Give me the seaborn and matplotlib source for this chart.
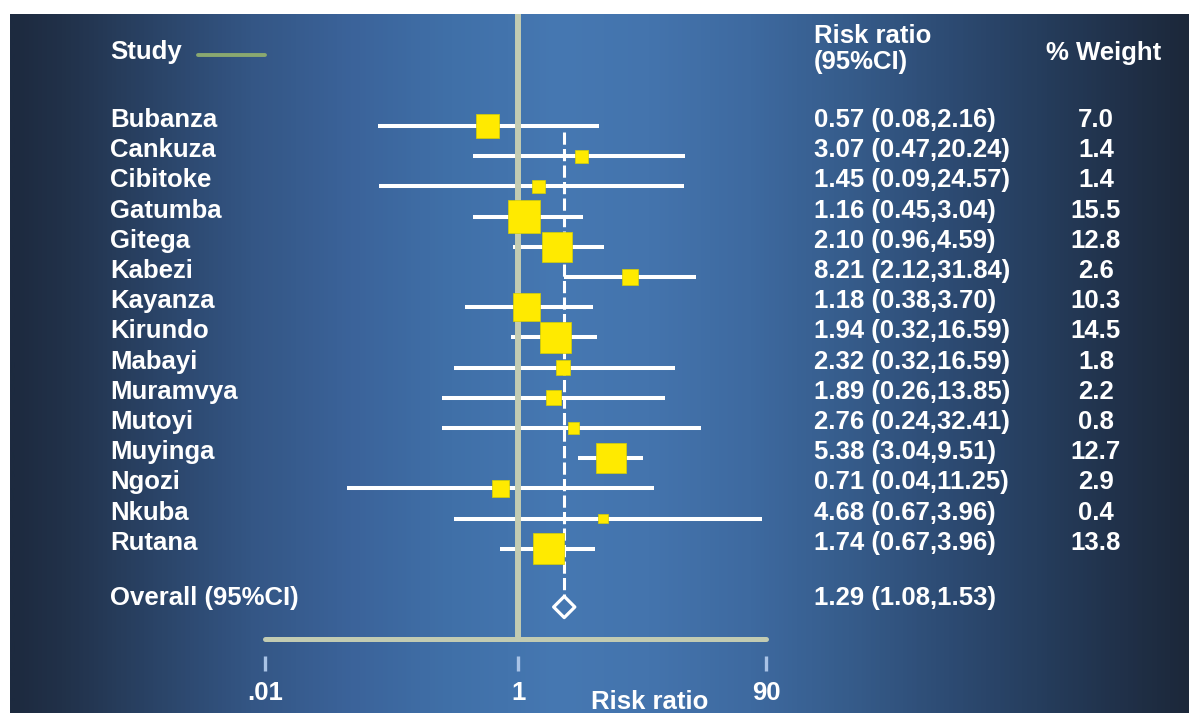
import numpy as np
import pandas as pd
import matplotlib
matplotlib.use("Agg")
import matplotlib.pyplot as plt
import matplotlib.transforms as mtransforms
from matplotlib.colors import LinearSegmentedColormap
import seaborn as sns

studies = ["Bubanza", "Cankuza", "Cibitoke", "Gatumba", "Gitega", "Kabezi", "Kayanza",
           "Kirundo", "Mabayi", "Muramvya", "Mutoyi", "Muyinga", "Ngozi", "Nkuba", "Rutana"]
ci_labels = ["0.57 (0.08,2.16)", "3.07 (0.47,20.24)", "1.45 (0.09,24.57)", "1.16 (0.45,3.04)",
             "2.10 (0.96,4.59)", "8.21 (2.12,31.84)", "1.18 (0.38,3.70)", "1.94 (0.32,16.59)",
             "2.32 (0.32,16.59)", "1.89 (0.26,13.85)", "2.76 (0.24,32.41)", "5.38 (3.04,9.51)",
             "0.71 (0.04,11.25)", "4.68 (0.67,3.96)", "1.74 (0.67,3.96)"]
weights = [7.0, 1.4, 1.4, 15.5, 12.8, 2.6, 10.3, 14.5, 1.8, 2.2, 0.8, 12.7, 2.9, 0.4, 13.8]
# positions as drawn in the picture (risk ratio scale)
rr_point = [0.57, 3.13, 1.44, 1.11, 2.03, 7.63, 1.16, 1.96, 2.26, 1.89, 2.71, 5.39, 0.72, 4.67, 1.72]
rr_low = [0.078, 0.44, 0.08, 0.44, 0.91, 2.30, 0.376, 0.88, 0.31, 0.248, 0.248, 2.97, 0.044, 0.31, 0.72]
rr_high = [4.34, 20.6, 20.3, 3.25, 4.76, 25.3, 3.9, 4.19, 17.2, 14.4, 27.6, 9.63, 11.8, 83.6, 4.04]
overall_label = "1.29 (1.08,1.53)"
overall_drawn = 2.30
tick_vals = [0.01, 1, 90]
tick_text = [".01", "1", "90"]

df = pd.DataFrame({"study": studies, "rr": rr_point, "lo": rr_low, "hi": rr_high,
                   "weight": weights, "label": ci_labels})
df["row"] = np.arange(len(df))

W, H = 1189, 713
fig = plt.figure(figsize=(W / 100, H / 100), dpi=100)
fig.patch.set_facecolor("white")

# gradient panel
bg = fig.add_axes([10 / W, 0, (W - 10) / W, 1 - 14 / H])
px_stops = [(10, "#1d2a3f"), (60, "#213149"), (150, "#2a4366"), (250, "#345685"),
            (350, "#3b639a"), (450, "#4070a8"), (560, "#4678b2"), (650, "#4474ad"),
            (750, "#3e6aa0"), (850, "#365c8b"), (950, "#2d4b73"), (1050, "#253c5b"),
            (1130, "#203048"), (1189, "#1c283a")]
stops = [((p - 10) / (W - 10), c) for p, c in px_stops]
cmap = LinearSegmentedColormap.from_list("panel", stops)
bg.imshow(np.linspace(0, 1, 800)[None, :], aspect="auto", cmap=cmap, extent=[0, 1, 0, 1])
bg.set_axis_off()

sns.set_style("white")
plt.rcParams["font.family"] = ["Liberation Sans", "DejaVu Sans"]

ax = fig.add_axes([265 / W, 1 - 639 / H, (766 - 265) / W, (639 - 14) / H])
ax.patch.set_alpha(0)
ax.set_xscale("log")
ax.set_xlim(0.01, 90)
row_px = 30.2
ax.set_ylim((639 - 126) / row_px, (14 - 126) / row_px)

line_c = "#c2cbb2"
white = "white"
yellow = "#ffea00"

ax.hlines(df["row"], df["lo"], df["hi"], color=white, lw=2.9, zorder=2)
ax.axvline(1, color=line_c, lw=4.3, zorder=3)
overall_row = (607 - 126) / row_px
ax.plot([overall_drawn, overall_drawn], [(132 - 126) / row_px, overall_row - 0.33],
        color=white, lw=2.2, dashes=(4, 1.4), zorder=4)
sizes = ((5 + 7 * np.sqrt(df["weight"])) * 0.72) ** 2
sns.scatterplot(data=df, x="rr", y="row", marker="s", s=sizes, color=yellow,
                edgecolor="#d8d000", linewidth=0.5, ax=ax, zorder=5, legend=False)
ax.scatter([overall_drawn], [overall_row], marker="D", s=(15 * 0.72) ** 2,
           facecolor="none", edgecolor=white, linewidth=2.3, zorder=6)

ax.axhline((639 - 126) / row_px, color=line_c, lw=3.6, zorder=3, clip_on=False)

for s in ["top", "left", "right"]:
    ax.spines[s].set_visible(False)
ax.spines["bottom"].set_position(("outward", 12))
ax.spines["bottom"].set_color("none")
ax.set_yticks([])
ax.set_xticks(tick_vals)
ax.set_xticklabels(tick_text)
ax.xaxis.set_minor_locator(matplotlib.ticker.NullLocator())
ax.tick_params(axis="x", bottom=True, direction="out", length=10.5, width=2.4,
               color="#a9c3e6", labelcolor=white, labelsize=18.5, pad=8)
for t in ax.get_xticklabels():
    t.set_fontweight("bold")
ax.set_xlabel("")
ax.set_ylabel("")

fs = 18.5
tr = mtransforms.blended_transform_factory(fig.transFigure, ax.transData)
off = 6 / row_px
for _, r in df.iterrows():
    ax.text(110 / W, r["row"] - off, r["study"], transform=tr, color=white,
            fontsize=fs, fontweight="bold", va="center", ha="left")
    ax.text(814 / W, r["row"] - off, r["label"], transform=tr, color=white,
            fontsize=fs, fontweight="bold", va="center", ha="left")
    ax.text(1096 / W, r["row"] - off, f"{r['weight']:.1f}", transform=tr, color=white,
            fontsize=fs, fontweight="bold", va="center", ha="center")

ov_text_row = (598 - 126) / row_px
ax.text(110 / W, ov_text_row, "Overall (95%CI)", transform=tr, color=white,
        fontsize=fs, fontweight="bold", va="center", ha="left")
ax.text(814 / W, ov_text_row, overall_label, transform=tr, color=white,
        fontsize=fs, fontweight="bold", va="center", ha="left")

fig.text(110 / W, 1 - 52 / H, "Study", color=white, fontsize=fs, fontweight="bold",
         va="center", ha="left")
fig.add_artist(plt.Line2D([198 / W, 265 / W], [1 - 55 / H, 1 - 55 / H],
                          color="#8aa870", lw=2.8))
fig.text(814 / W, 1 - 49 / H, "Risk ratio\n(95%CI)", color=white, fontsize=fs,
         fontweight="bold", va="center", ha="left", linespacing=1.15)
fig.text(1046 / W, 1 - 53 / H, "% Weight", color=white, fontsize=fs, fontweight="bold",
         va="center", ha="left")
fig.text(650 / W, 1 - 702 / H, "Risk ratio", color=white, fontsize=fs, fontweight="bold",
         va="center", ha="center")

fig.savefig("out.png", dpi=100)
